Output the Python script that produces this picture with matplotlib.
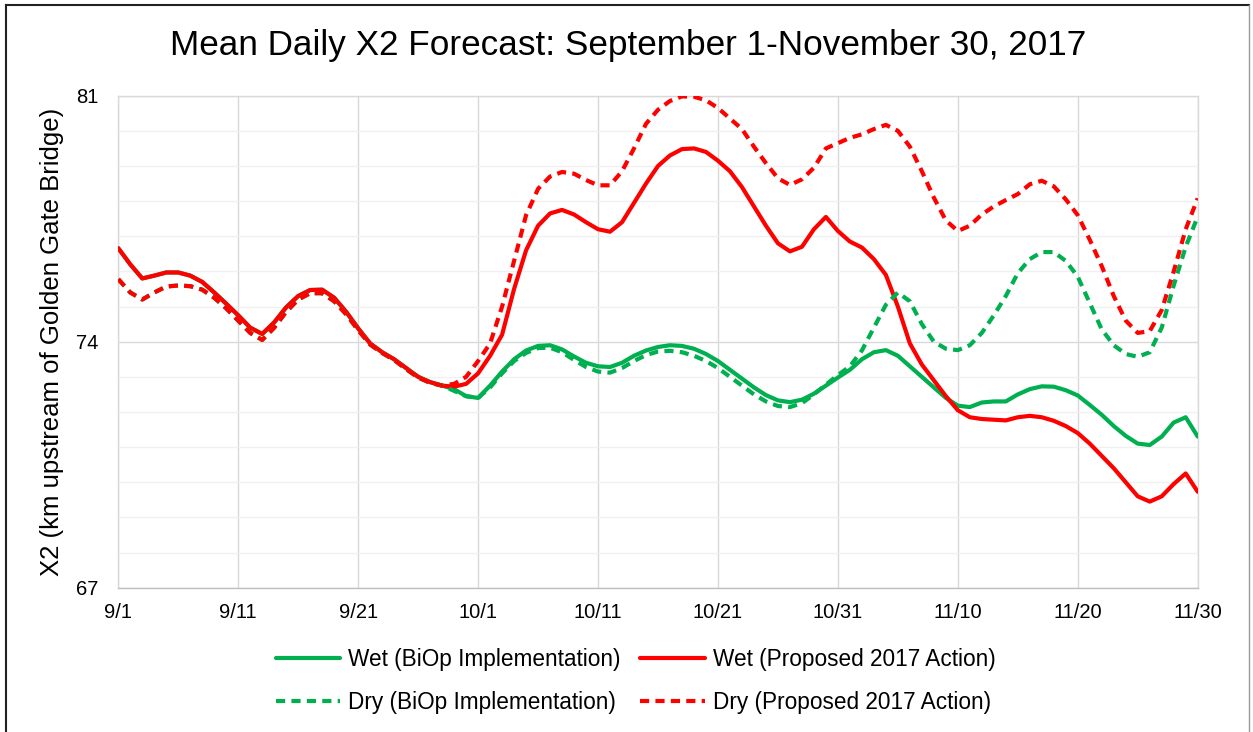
import matplotlib
matplotlib.use("Agg")
import matplotlib.pyplot as plt
from matplotlib.lines import Line2D
import numpy as np

plt.rcParams['font.family'] = ['Liberation Sans', 'DejaVu Sans']

title = "Mean Daily X2 Forecast: September 1-November 30, 2017"
ylabel = "X2 (km upstream of Golden Gate Bridge)"
xtick_labels = ["9/1", "9/11", "9/21", "10/1", "10/11", "10/21", "10/31", "11/10", "11/20", "11/30"]
ytick_labels = ["67", "74", "81"]

common_wet = [76.66, 76.2, 75.8, 75.88, 75.97, 75.97, 75.88, 75.7, 75.4, 75.08,
              74.75, 74.4, 74.22, 74.55, 74.98, 75.3, 75.47, 75.48, 75.25, 74.85,
              74.38, 73.95, 73.7, 73.5, 73.25, 73.0, 72.85, 72.75]
common_dry = [75.78, 75.4, 75.2, 75.4, 75.57, 75.6, 75.58, 75.48, 75.25, 74.95,
              74.6, 74.25, 74.05, 74.4, 74.85, 75.2, 75.38, 75.38, 75.15, 74.78,
              74.33, 73.92, 73.68, 73.48, 73.22, 72.98, 72.83, 72.75]

wet_proposed = common_wet + [
    72.72, 72.8, 73.1, 73.6, 74.2, 75.5, 76.6, 77.3, 77.65, 77.75,
    77.62, 77.4, 77.2, 77.13, 77.4, 77.95, 78.5, 79.0, 79.3, 79.48,
    79.5, 79.4, 79.15, 78.85, 78.4, 77.85, 77.3, 76.8, 76.57, 76.7,
    77.2, 77.55, 77.15, 76.85, 76.68, 76.35, 75.9, 75.0, 73.95, 73.35,
    72.9, 72.45, 72.05, 71.85, 71.8, 71.78, 71.76, 71.85, 71.89, 71.85,
    71.75, 71.6, 71.4, 71.1, 70.75, 70.4, 70.0, 69.6, 69.45, 69.6,
    69.95, 70.25, 69.73]

wet_biop = common_wet + [
    72.65, 72.45, 72.4, 72.75, 73.15, 73.5, 73.75, 73.88, 73.9, 73.78,
    73.58, 73.4, 73.3, 73.28, 73.4, 73.6, 73.75, 73.85, 73.9, 73.88,
    73.8, 73.65, 73.45, 73.2, 72.95, 72.7, 72.48, 72.33, 72.28, 72.35,
    72.52, 72.75, 72.98, 73.2, 73.5, 73.7, 73.76, 73.6, 73.3, 73.0,
    72.7, 72.4, 72.18, 72.14, 72.27, 72.3, 72.3, 72.5, 72.65, 72.73,
    72.72, 72.62, 72.47, 72.2, 71.92, 71.6, 71.32, 71.1, 71.06, 71.3,
    71.7, 71.85, 71.3]

dry_proposed = common_dry + [
    72.8, 73.0, 73.45, 73.95, 75.0, 76.3, 77.6, 78.35, 78.7, 78.83,
    78.78, 78.6, 78.45, 78.45, 78.85, 79.5, 80.2, 80.6, 80.85, 80.98,
    80.97, 80.87, 80.65, 80.35, 80.05, 79.55, 79.08, 78.65, 78.46, 78.62,
    78.95, 79.5, 79.65, 79.8, 79.9, 80.05, 80.17, 80.0, 79.55, 78.85,
    78.1, 77.45, 77.15, 77.3, 77.62, 77.85, 78.03, 78.2, 78.48, 78.58,
    78.42, 78.05, 77.6, 76.9, 76.15, 75.3, 74.6, 74.25, 74.3, 74.9,
    76.0, 77.2, 78.08]

dry_biop = common_dry + [
    72.6, 72.45, 72.4, 72.7, 73.1, 73.45, 73.68, 73.82, 73.83, 73.7,
    73.48, 73.28, 73.15, 73.12, 73.25, 73.45, 73.62, 73.72, 73.74, 73.7,
    73.6, 73.45, 73.25, 73.0, 72.75, 72.5, 72.3, 72.17, 72.14, 72.25,
    72.5, 72.78, 73.05, 73.3, 73.75, 74.4, 75.05, 75.4, 75.15, 74.5,
    74.0, 73.8, 73.76, 73.9, 74.25, 74.75, 75.3, 75.95, 76.35, 76.55,
    76.55, 76.3, 75.85, 75.1, 74.35, 73.9, 73.65, 73.57, 73.7, 74.4,
    75.6, 76.7, 77.56]

labels = ["Wet (BiOp Implementation)", "Wet (Proposed 2017 Action)",
          "Dry (BiOp Implementation)", "Dry (Proposed 2017 Action)"]

GREEN = "#00b050"
RED = "#ff0000"

days = np.arange(len(wet_proposed))

fig = plt.figure(figsize=(12.53, 7.32), dpi=100)
ax = fig.add_axes([118.3 / 1253, 1 - 587.7 / 732, (1197.7 - 118.3) / 1253, (587.7 - 95.7) / 732])

kw = dict(lw=3.0, solid_joinstyle='round', solid_capstyle='round', dash_joinstyle='round')
h1, = ax.plot(days, wet_biop, color=GREEN, label=labels[0], zorder=3, **kw)
h2, = ax.plot(days, wet_proposed, color=RED, label=labels[1], zorder=4, **kw)
h3, = ax.plot(days, dry_biop, color=GREEN, ls=(0, (2.2, 1.5)), label=labels[2], zorder=5, **kw)
h4, = ax.plot(days, dry_proposed, color=RED, ls=(0, (2.2, 1.5)), label=labels[3], zorder=6, **kw)

ax.set_xlim(0, 90)
ax.set_ylim(67, 81)
ax.set_xticks(np.arange(0, 91, 10))
ax.set_xticklabels(xtick_labels, fontsize=14.5)
ax.set_yticks([67, 74, 81])
ax.set_yticklabels(ytick_labels, fontsize=14.5)
ax.set_yticks(np.arange(67, 82, 1), minor=True)
ax.tick_params(axis='both', which='both', length=0, colors='#000000')
ax.tick_params(axis='x', pad=11)
ax.tick_params(axis='y', pad=14)
ax.grid(True, which='major', color='#d9d9d9', lw=1.0, zorder=0)
ax.grid(True, which='minor', axis='y', color='#f0f0f0', lw=1.0, zorder=0)
for s in ['top', 'right', 'left']:
    ax.spines[s].set_color('#d9d9d9')
ax.spines['bottom'].set_color('#bfbfbf')
for s in ax.spines.values():
    s.set_linewidth(1.0)
ax.set_axisbelow(True)

ax.set_ylabel(ylabel, fontsize=18.5)
ax.yaxis.set_label_coords(-0.05, 0.5)
fig.text(628 / 1253, 1 - 45 / 732, title, ha='center', va='center', fontsize=25.3)

leg = fig.legend([h1, h3, h2, h4], [labels[0], labels[2], labels[1], labels[3]],
                 loc='center', ncol=2,
                 bbox_to_anchor=(635.5 / 1253, 1 - 681 / 732), frameon=False,
                 fontsize=16.3, handlelength=2.85, handletextpad=0.36, columnspacing=0.85,
                 labelspacing=0.9)

# figure border
fig.add_artist(Line2D([6 / 1253, 6 / 1253], [0, 1 - 5 / 732], transform=fig.transFigure, color='#222222', lw=1.5))
fig.add_artist(Line2D([6 / 1253, 1249 / 1253], [1 - 5 / 732, 1 - 5 / 732], transform=fig.transFigure, color='#222222', lw=1.5))
fig.add_artist(Line2D([1249 / 1253, 1249 / 1253], [0, 1 - 5 / 732], transform=fig.transFigure, color='#999999', lw=1.0))

fig.savefig("out.png", dpi=100)
